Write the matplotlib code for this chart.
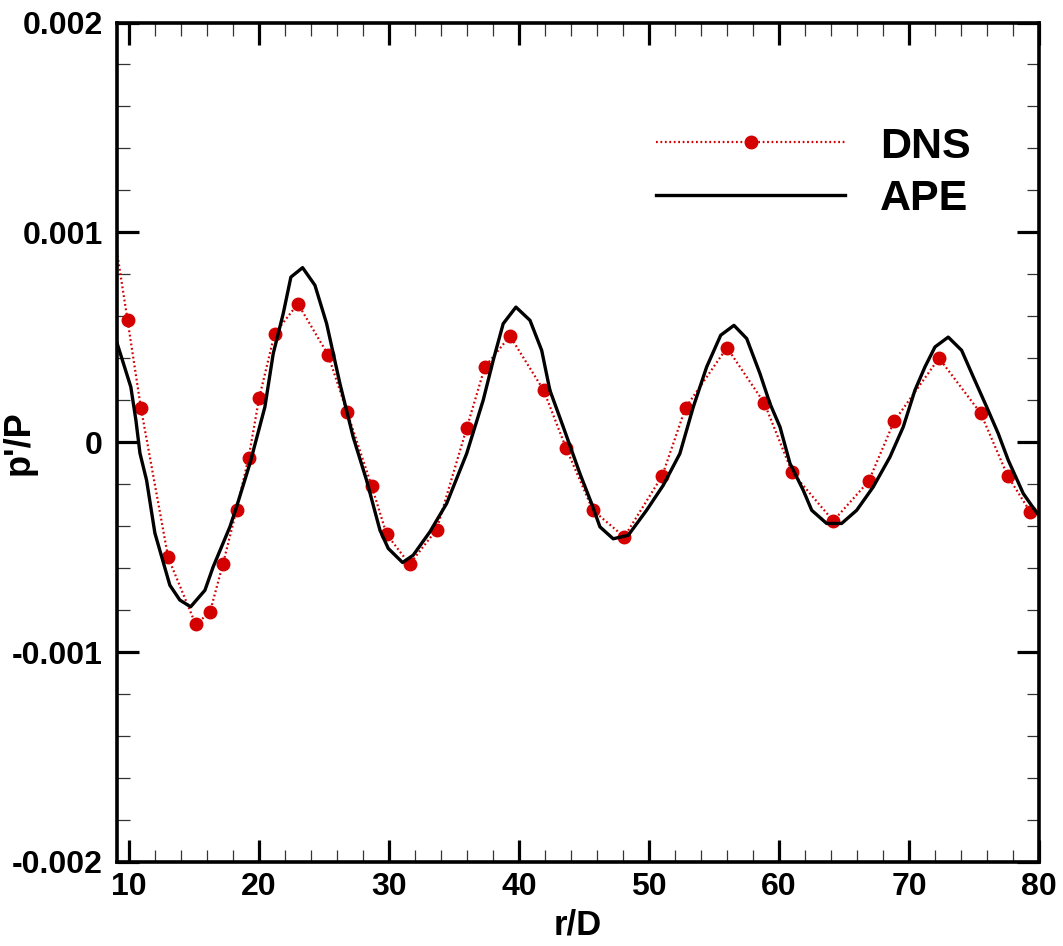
import matplotlib
matplotlib.use("Agg")
import matplotlib.pyplot as plt
from matplotlib.ticker import MultipleLocator, FixedLocator, FuncFormatter

plt.rcParams['font.family'] = ['Liberation Sans', 'DejaVu Sans']
plt.rcParams['font.weight'] = 'bold'

# DNS data (r/D, p'/P in units of 1e-4); first point lies left of the axis (no marker)
dns_r = [8.5, 9.90, 10.92, 13.02, 15.13, 16.23, 17.23, 18.28, 19.21, 20.02, 21.21,
         23.0, 25.31, 26.79, 28.67, 29.82, 31.59, 33.67, 35.98, 37.38, 39.31,
         41.90, 43.62, 45.69, 48.10, 51.02, 52.82, 56.0, 58.87, 61.02, 64.18,
         66.90, 68.85, 72.31, 75.52, 77.59, 79.33]
dns_p = [11.4, 5.81, 1.65, -5.49, -8.67, -8.11, -5.81, -3.22, -0.73, 2.11, 5.18,
         6.60, 4.18, 1.43, -2.08, -4.38, -5.81, -4.16, 0.67, 3.59, 5.06,
         2.48, -0.27, -3.24, -4.51, -1.60, 1.65, 4.51, 1.87, -1.44, -3.75,
         -1.86, 0.99, 4.01, 1.38, -1.60, -3.32]

# APE data
ape_r = [9.0, 10.15, 10.54, 10.85, 11.36, 12.0, 13.15, 13.92, 14.75, 15.85, 16.48,
         17.77, 18.28, 19.31, 20.46, 21.10, 21.87, 22.46, 23.36, 24.31, 25.21,
         26.23, 27.25, 28.28, 29.31, 29.95, 31.05, 31.87, 33.15, 34.44, 35.98,
         37.25, 38.02, 38.79, 39.77, 40.85, 41.75, 42.38, 43.41, 44.69, 45.59,
         46.23, 47.25, 48.41, 49.82, 51.10, 52.38, 53.41, 54.44, 55.52, 56.54,
         57.52, 58.54, 59.31, 60.08, 60.85, 61.87, 62.52, 63.67, 64.82, 65.98,
         67.25, 68.54, 69.56, 70.46, 71.23, 72.0, 73.02, 74.05, 74.95, 75.98,
         76.87, 77.64, 78.79, 79.69, 80.0]
ape_p = [4.9, 2.63, 1.05, -0.52, -1.81, -4.33, -6.81, -7.52, -7.84, -7.05, -5.94,
         -4.03, -3.08, -1.01, 1.68, 4.22, 6.13, 7.87, 8.32, 7.48, 5.65,
         2.80, 0.25, -1.81, -4.19, -5.06, -5.73, -5.38, -4.27, -2.92, -0.54,
         2.0, 3.90, 5.65, 6.44, 5.81, 4.38, 2.48, 0.73, -1.49, -2.92,
         -4.03, -4.60, -4.43, -3.24, -2.05, -0.54, 1.68, 3.59, 5.10, 5.57,
         4.94, 3.27, 1.84, 0.73, -1.01, -2.29, -3.24, -3.87, -3.87, -3.24,
         -2.13, -0.70, 0.73, 2.48, 3.59, 4.54, 5.01, 4.38, 3.11, 1.68,
         0.41, -0.86, -2.44, -3.24, -3.48]

scale = 1e-4
yticks = [-0.002, -0.001, 0.0, 0.001, 0.002]
ytick_labels = ['-0.002', '-0.001', '0', '0.001', '0.002']
xticks = [10, 20, 30, 40, 50, 60, 70, 80]

fig = plt.figure(figsize=(10.63, 9.46), dpi=100)
ax = fig.add_axes([0.110, 0.0888, 0.8674, 0.8874])

red = '#d40000'
ax.plot(dns_r, [v * scale for v in dns_p], color=red, linestyle=(0, (0.8, 1.2)), lw=1.6,
        marker='o', markersize=9, markerfacecolor=red, markeredgecolor=red,
        markevery=list(range(1, len(dns_r))), label='DNS', zorder=2)
ax.plot(ape_r, [v * scale for v in ape_p], color='black', lw=2.4, label='APE', zorder=3)

ax.set_xlim(9.08, 80)
ax.set_ylim(-0.002, 0.002)

ax.xaxis.set_major_locator(FixedLocator(xticks))
ax.xaxis.set_minor_locator(MultipleLocator(2))
ax.yaxis.set_major_locator(FixedLocator(yticks))
ax.yaxis.set_major_formatter(FuncFormatter(lambda v, p: ytick_labels[yticks.index(round(v, 4))] if round(v, 4) in yticks else ''))
ax.yaxis.set_minor_locator(MultipleLocator(0.0002))

ax.tick_params(which='both', direction='in', top=True, right=True)
ax.tick_params(which='major', length=16, width=2.3, labelsize=23)
ax.tick_params(which='minor', length=9, width=0.9, color='#333333')
ax.tick_params(axis='y', which='major', pad=10)
ax.tick_params(axis='x', which='major', pad=7)
for lab in ax.get_xticklabels() + ax.get_yticklabels():
    lab.set_fontweight('bold')

for s in ax.spines.values():
    s.set_linewidth(2.6)

ax.set_xlabel('r/D', fontsize=25, fontweight='bold')
ax.set_ylabel("p'/P", fontsize=26, fontweight='bold')
ax.xaxis.set_label_coords(0.5, -0.055)
ax.yaxis.set_label_coords(-0.087, 0.5)

leg = ax.legend(loc='upper left', bbox_to_anchor=(0.552, 0.912), frameon=False,
                prop={'size': 31, 'weight': 'bold'}, handlelength=4.4,
                handletextpad=0.8, labelspacing=0.3, borderpad=0.2)

fig.savefig('out.png', dpi=100)
